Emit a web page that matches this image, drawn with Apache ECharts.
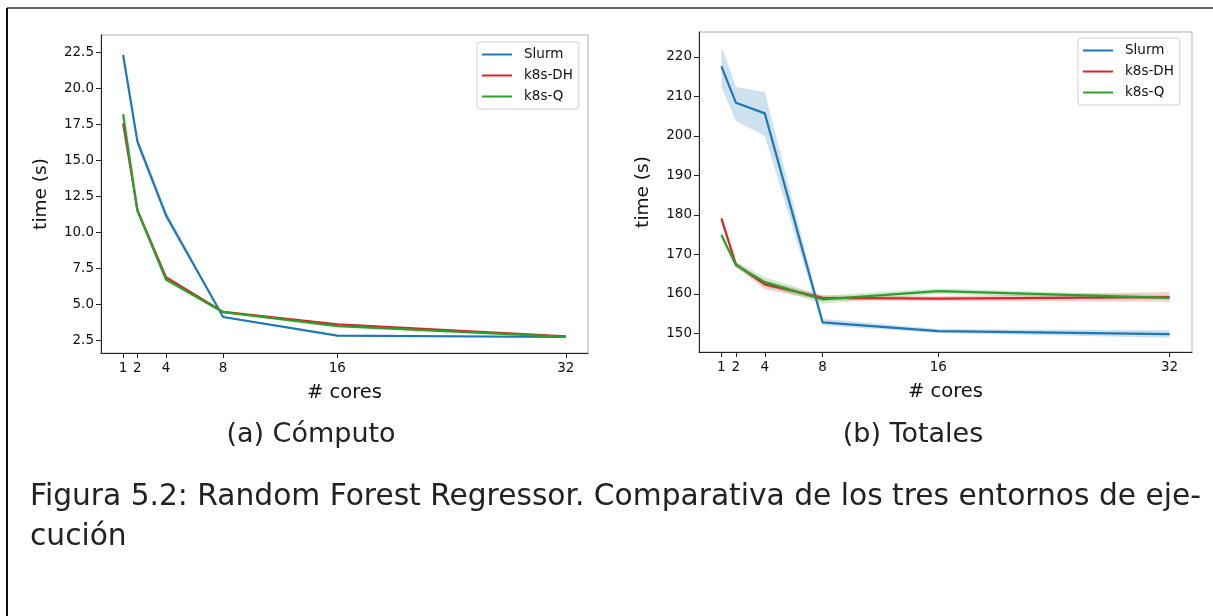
<!DOCTYPE html>
<html>
<head>
<meta charset="utf-8">
<script src="https://cdn.jsdelivr.net/npm/echarts@6/dist/echarts.min.js"></script>
<style>
html,body{margin:0;padding:0;background:#fff;}
#chart{width:1213px;height:616px;}
</style>
</head>
<body>
<div id="chart"></div>
<script>
// ---- data ----
const cores = [1, 2, 4, 8, 16, 32];
const seriesNames = ['Slurm', 'k8s-DH', 'k8s-Q'];
const colors = ['#1f77b4', '#d62728', '#2ca02c'];
const bandColors = ['rgba(31,119,180,0.22)', 'rgba(214,39,40,0.22)', 'rgba(44,160,44,0.22)'];

// (a) Cómputo
const compSlurm   = [22.3, 16.3, 11.2, 4.14, 2.85, 2.75];
const compSlurmLo = [21.9, 16.0, 10.9, 4.08, 2.80, 2.70];
const compSlurmHi = [22.75, 16.6, 11.5, 4.20, 2.90, 2.80];
const compDH   = [17.57, 11.55, 6.90, 4.49, 3.63, 2.80];
const compDHLo = [17.40, 11.45, 6.80, 4.45, 3.60, 2.77];
const compDHHi = [17.75, 11.65, 7.00, 4.53, 3.66, 2.83];
const compQ   = [18.20, 11.50, 6.74, 4.47, 3.51, 2.76];
const compQLo = [17.90, 11.40, 6.60, 4.43, 3.47, 2.73];
const compQHi = [18.50, 11.60, 6.88, 4.51, 3.55, 2.79];

// (b) Totales
const totSlurm   = [217.6, 208.4, 205.7, 152.8, 150.6, 149.8];
const totSlurmLo = [212.4, 203.8, 200.0, 152.0, 150.1, 148.9];
const totSlurmHi = [222.7, 212.4, 211.1, 153.7, 151.1, 150.8];
const totDH   = [179.1, 167.5, 162.4, 159.0, 158.8, 159.2];
const totDHLo = [178.0, 167.0, 161.2, 158.4, 158.2, 158.0];
const totDHHi = [180.5, 168.0, 163.4, 159.6, 159.4, 160.5];
const totQ   = [174.9, 167.3, 163.0, 158.6, 160.7, 159.0];
const totQLo = [174.3, 166.5, 162.0, 157.5, 160.0, 158.5];
const totQHi = [175.5, 168.2, 164.2, 159.6, 161.4, 159.6];

const xTicks = [1, 2, 4, 8, 16, 32];
const compYTicks = [2.5, 5.0, 7.5, 10.0, 12.5, 15.0, 17.5, 20.0, 22.5];
const totYTicks = [150, 160, 170, 180, 190, 200, 210, 220];

const titles = ['(a) Cómputo', '(b) Totales'];
const captionLine1 = 'Figura 5.2: Random Forest Regressor. Comparativa de los tres entornos de eje-';
const captionLine2 = 'cución';

// ---- chart ----
const chart = echarts.init(document.getElementById('chart'));
const FONT = 'DejaVu Sans';

function band(name, idx, lo, hi, color) {
  return {
    type: 'custom', name: name, xAxisIndex: idx, yAxisIndex: idx,
    clip: true, silent: true,
    data: cores.map((c, i) => [c, lo[i], hi[i]]),
    encode: { x: 0, y: [1, 2] },
    renderItem: function (params, api) {
      if (params.dataIndex !== 0) return null;
      const pts = [];
      for (let i = 0; i < cores.length; i++) pts.push(api.coord([cores[i], hi[i]]));
      for (let i = cores.length - 1; i >= 0; i--) pts.push(api.coord([cores[i], lo[i]]));
      return { type: 'polygon', shape: { points: pts }, style: { fill: color } };
    }
  };
}
function line(name, idx, vals, color) {
  return {
    type: 'line', name: name, xAxisIndex: idx, yAxisIndex: idx,
    data: cores.map((c, i) => [c, vals[i]]),
    showSymbol: false, symbol: 'none', clip: true,
    lineStyle: { color: color, width: 2.2 }, itemStyle: { color: color },
    emphasis: { disabled: true }
  };
}
function xAxis(idx) {
  return {
    type: 'value', gridIndex: idx, min: -0.55, max: 33.55,
    splitLine: { show: false },
    axisLine: { show: true, onZero: false, lineStyle: { color: '#222', width: 1 } },
    axisTick: { show: true, length: 5, lineStyle: { color: '#222' }, customValues: xTicks },
    axisLabel: { customValues: xTicks, fontFamily: FONT, fontSize: 13.5, color: '#111', margin: 8 },
    name: '# cores', nameLocation: 'middle', nameGap: 30,
    nameTextStyle: { fontFamily: FONT, fontSize: 19.5, color: '#111' }
  };
}
function yAxis(idx, min, max, ticks, gap) {
  return {
    type: 'value', gridIndex: idx, min: min, max: max,
    splitLine: { show: false },
    axisLine: { show: true, onZero: false, lineStyle: { color: '#222', width: 1 } },
    axisTick: { show: true, length: 5, lineStyle: { color: '#222' }, customValues: ticks },
    axisLabel: {
      customValues: ticks, fontFamily: FONT, fontSize: 13.5, color: '#111', margin: 7,
      formatter: v => (idx === 0 ? Number(v).toFixed(1) : String(Math.round(v)))
    },
    name: 'time (s)', nameLocation: 'middle', nameGap: gap, nameRotate: 90,
    nameTextStyle: { fontFamily: FONT, fontSize: 18.5, color: '#111' }
  };
}
function legend(left, top) {
  return {
    left: left, top: top, orient: 'vertical',
    data: seriesNames, icon: 'rect', itemWidth: 30, itemHeight: 2, itemGap: 6,
    padding: [5, 6, 5, 5],
    borderColor: '#d0d0d0', borderWidth: 1, borderRadius: 3, backgroundColor: '#fff',
    selectedMode: false,
    textStyle: { fontFamily: FONT, fontSize: 13.5, color: '#111', lineHeight: 15, padding: [0, 0, 0, 7] }
  };
}

const series = [];
const compSets = [[compSlurm, compSlurmLo, compSlurmHi], [compDH, compDHLo, compDHHi], [compQ, compQLo, compQHi]];
const totSets = [[totSlurm, totSlurmLo, totSlurmHi], [totDH, totDHLo, totDHHi], [totQ, totQLo, totQHi]];
[compSets, totSets].forEach((sets, g) => {
  sets.forEach((s, k) => {
    series.push(band(seriesNames[k] + ' ci' + g, g, s[1], s[2], bandColors[k]));
    series.push(line(seriesNames[k], g, s[0], colors[k]));
  });
});

chart.setOption({
  animation: false,
  backgroundColor: '#fff',
  grid: [
    { left: 101, top: 35, width: 487, height: 318, show: true, borderColor: '#b0b0b0', borderWidth: 1, backgroundColor: 'transparent' },
    { left: 699, top: 32, width: 493, height: 320, show: true, borderColor: '#b0b0b0', borderWidth: 1, backgroundColor: 'transparent' }
  ],
  xAxis: [xAxis(0), xAxis(1)],
  yAxis: [yAxis(0, 1.64, 23.7, compYTicks, 50), yAxis(1, 145.3, 226.3, totYTicks, 46)],
  legend: [legend(477, 42), legend(1078, 38)],
  series: series,
  graphic: [
    { type: 'line', shape: { x1: 7, y1: 8, x2: 1213, y2: 8 }, style: { stroke: '#666', lineWidth: 2 } },
    { type: 'line', shape: { x1: 7, y1: 8, x2: 7, y2: 616 }, style: { stroke: '#111', lineWidth: 2 } },
    { type: 'text', x: 311, y: 435, style: { text: titles[0], font: '27px "DejaVu Sans"', fill: '#222', textAlign: 'center', textVerticalAlign: 'middle' } },
    { type: 'text', x: 913, y: 435, style: { text: titles[1], font: '27px "DejaVu Sans"', fill: '#222', textAlign: 'center', textVerticalAlign: 'middle' } },
    { type: 'text', x: 30, y: 497, style: { text: captionLine1, font: '29.7px "DejaVu Sans"', fill: '#222', textAlign: 'left', textVerticalAlign: 'middle' } },
    { type: 'text', x: 30, y: 537, style: { text: captionLine2, font: '29.7px "DejaVu Sans"', fill: '#222', textAlign: 'left', textVerticalAlign: 'middle' } }
  ]
});
</script>
</body>
</html>
